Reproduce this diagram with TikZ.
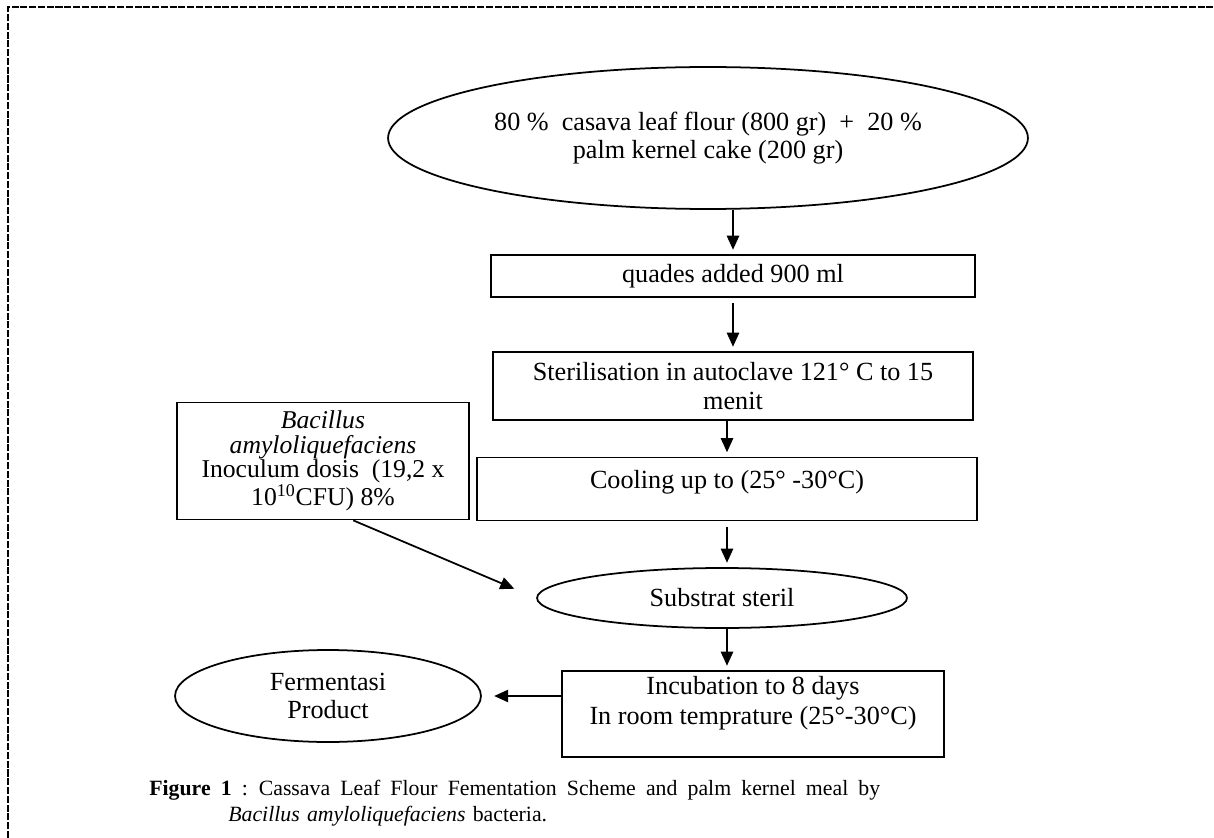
\documentclass[tikz,border=0pt]{standalone}
\usepackage{fontspec}
\setmainfont{Liberation Serif}
\usetikzlibrary{shapes.geometric,arrows.meta}

\begin{document}
\begin{tikzpicture}[x=0.02cm, y=-0.02cm,
	every node/.style={font=\fontsize{14.9}{16}\selectfont, inner sep=0pt},
	box/.style={draw, line width=1pt, rectangle, align=center},
	oval/.style={draw, line width=1pt, ellipse, align=center},
	flow/.style={-{Triangle[width=7pt,length=8pt]}, line width=1pt, shorten >=2.5pt}]
	
	\useasboundingbox (0,0) rectangle (1214,838);
	\draw[dash pattern=on 4pt off 1pt, line width=0.9pt] (8,838) -- (8,7) -- (1214,7);
	
	\coordinate (axisA) at (733,0);
	\coordinate (axisB) at (727,0);
	
	\node[oval, minimum width=12.8cm, minimum height=2.84cm] (setFeed) at (708,138) {80 \%\ \ casava leaf flour (800 gr)\ \ +\ \ 20 \%\\palm kernel cake (200 gr)};
	\node[box, minimum width=9.68cm, minimum height=0.84cm] (setWater) at (733,276) {quades added 900 ml};
	\node[box, minimum width=9.6cm, minimum height=1.36cm] (setSteril) at (733,386) {Sterilisation in autoclave 121\textdegree{} C to 15\\menit};
	\node[box, minimum width=10cm, minimum height=1.26cm] (setCool) at (727,489) {Cooling up to (25\textdegree{} -30\textdegree C)\\[-5pt]\mbox{}};
	\node[oval, minimum width=7.4cm, minimum height=1.2cm] (setSub) at (722,598) {Substrat steril};
	\node[box, minimum width=7.64cm, minimum height=1.72cm] (setIncub) at (753,714) {Incubation to 8 days\\[1pt]In room temprature (25\textdegree-30\textdegree C)\\[-1pt]\mbox{}};
	\node[oval, minimum width=6.12cm, minimum height=1.84cm] (setProd) at (328,696) {Fermentasi\\Product};
	\node[box, minimum width=5.84cm, minimum height=2.34cm, font=\fontsize{14.6}{13.7}\selectfont] (setInoc) at (323,461) {\textit{Bacillus}\\\textit{amyloliquefaciens}\\Inoculum dosis\ \ (19,2 x\\10\textsuperscript{10}CFU) 8\%};
	
	\draw[flow] (setFeed.south -| axisA) -- (setWater.north -| axisA);
	\draw[flow, shorten <=3pt] (setWater.south -| axisA) -- (setSteril.north -| axisA);
	\draw[flow] (setSteril.south -| axisB) -- (setCool.north -| axisB);
	\draw[flow, shorten <=3pt] (setCool.south -| axisB) -- (setSub.north -| axisB);
	\draw[flow] (setSub.south -| axisB) -- (setIncub.north -| axisB);
	\draw[flow, shorten >=7pt] (setIncub.west |- setProd.east) -- (setProd.east);
	\draw[flow, shorten >=13.5pt] (setInoc.-63) -- (setSub.west);
	
	\node[anchor=north west, text width=14.62cm, align=left, font=\fontsize{12.4}{14.5}\selectfont] (caption) at (149,780) {\hbox to 14.62cm{\spaceskip=.3em plus 1fill \textbf{Figure 1} : Cassava Leaf Flour Fementation Scheme and palm kernel meal by}\\\hspace*{1.58cm}\textit{Bacillus amyloliquefaciens} bacteria.};
	
\end{tikzpicture}
\end{document}
